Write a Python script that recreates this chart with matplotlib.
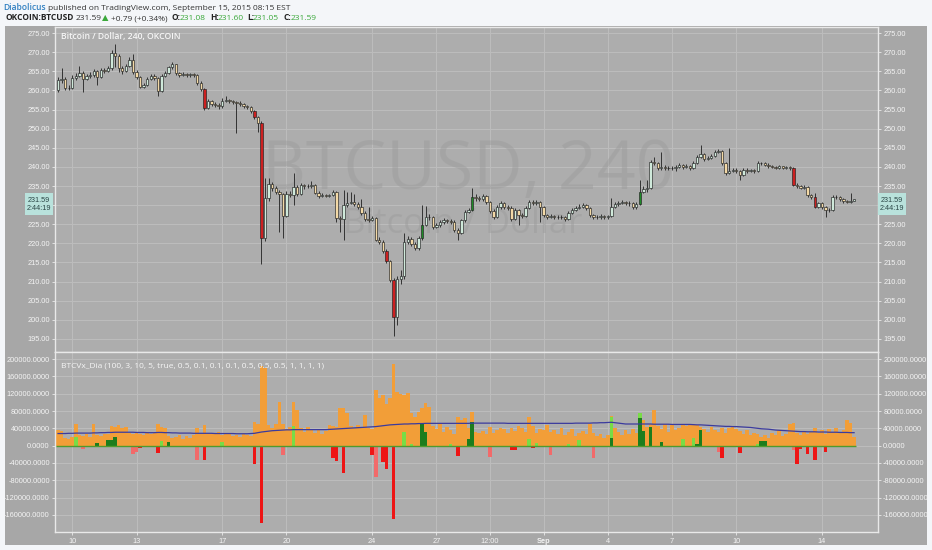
import matplotlib
matplotlib.use("Agg")
import matplotlib.pyplot as plt
from matplotlib.patches import Rectangle
import numpy as np
import pandas as pd

# 4h candles, OKCOIN BTCUSD, first bar 2015-08-09 08:00
first_open = 260.0
close = [
    262.8, 263.0, 260.5, 260.6, 263.2, 263.8, 264.5, 263.0, 263.8, 264.0,
    265.0, 263.5, 265.2, 265.0, 265.8, 269.8, 269.0, 265.8, 265.0, 266.5,
    268.0, 264.8, 263.5, 261.0, 261.5, 263.0, 263.8, 263.2, 259.8, 263.8,
    264.5, 266.0, 266.8, 264.5, 264.0, 264.3, 264.0, 264.2, 264.0, 262.0,
    260.3, 255.5, 257.2, 256.5, 256.3, 255.8, 257.3, 257.5, 257.2, 257.0,
    256.8, 256.5, 255.8, 255.6, 254.6, 253.0, 251.4, 221.3, 231.8, 235.5,
    234.5, 233.5, 232.8, 227.2, 233.0, 232.6, 234.8, 233.0, 235.2, 234.9,
    235.0, 235.3, 233.3, 232.4, 232.7, 232.4, 232.6, 233.4, 226.6, 226.4,
    230.0, 230.6, 230.9, 230.3, 229.5, 228.0, 226.5, 226.2, 226.6, 221.0,
    220.4, 218.0, 215.3, 210.5, 200.8, 210.8, 211.5, 220.4, 221.2, 219.8,
    218.7, 221.3, 224.8, 227.0, 226.8, 224.4, 224.7, 225.5, 226.0, 225.8,
    225.6, 223.5, 222.8, 226.0, 228.3, 228.7, 232.2, 231.8, 231.6, 232.3,
    230.8, 228.5, 227.0, 229.5, 230.5, 229.6, 229.3, 226.4, 228.7, 227.4,
    227.2, 229.2, 230.9, 230.5, 230.8, 229.6, 227.4, 227.0, 227.2, 226.9,
    227.0, 226.8, 226.3, 227.9, 228.7, 229.2, 229.6, 230.0, 229.2, 227.4,
    227.0, 226.9, 227.2, 226.8, 227.1, 229.6, 230.2, 230.5, 230.9, 230.6,
    230.5, 229.4, 230.4, 233.5, 234.3, 234.6, 241.4, 241.0, 239.6, 240.0,
    239.8, 239.7, 239.6, 240.0, 240.4, 240.0, 240.3, 239.8, 241.0, 242.5,
    243.3, 242.0, 242.3, 242.9, 243.8, 244.2, 241.0, 238.5, 239.0, 239.3,
    239.0, 237.8, 239.2, 238.9, 239.1, 238.9, 241.0, 240.9, 240.6, 240.2,
    240.0, 239.8, 240.1, 239.8, 239.9, 239.6, 235.3, 235.0, 234.6, 234.8,
    232.6, 232.0, 229.6, 230.5, 229.5, 228.7, 228.8, 232.2, 232.0, 231.5,
    231.0, 230.9, 231.08, 231.59,
]
high = [
    263.5, 265.8, 263.6, 261.5, 264.0, 264.6, 266.5, 265.0, 264.3, 264.8,
    265.6, 265.4, 265.8, 265.9, 266.3, 270.5, 272.1, 269.5, 266.4, 267.0,
    268.8, 269.4, 265.2, 263.8, 262.0, 263.5, 264.3, 264.2, 263.6, 264.2,
    265.0, 266.5, 267.5, 267.0, 264.9, 264.7, 264.6, 264.6, 264.5, 264.3,
    262.4, 260.6, 257.8, 257.6, 256.9, 256.6, 257.9, 258.5, 257.8, 257.6,
    257.3, 257.2, 256.8, 256.2, 256.0, 254.9, 253.3, 252.0, 237.0, 237.0,
    236.0, 235.0, 234.0, 233.2, 233.6, 233.6, 238.3, 235.2, 235.8, 235.6,
    235.5, 236.3, 235.6, 233.7, 233.2, 233.0, 233.0, 234.0, 233.8, 227.2,
    234.0, 233.5, 233.5, 233.0, 230.8, 231.6, 228.5, 229.5, 227.2, 227.0,
    221.6, 220.8, 218.4, 215.7, 211.0, 211.4, 213.0, 222.6, 222.0, 221.6,
    220.3, 222.0, 230.0, 229.8, 227.6, 227.2, 225.3, 226.0, 226.6, 226.4,
    226.3, 226.0, 224.0, 226.5, 228.8, 229.3, 234.5, 232.8, 232.3, 232.9,
    232.7, 231.2, 228.9, 230.0, 231.2, 230.9, 230.0, 229.7, 229.2, 229.0,
    227.9, 229.7, 231.4, 231.3, 231.3, 231.1, 229.9, 227.8, 227.6, 227.5,
    227.4, 227.3, 227.2, 228.4, 229.2, 229.7, 230.3, 230.6, 230.4, 229.6,
    227.8, 227.4, 227.6, 227.5, 227.5, 231.8, 230.7, 231.0, 231.4, 231.2,
    231.0, 230.8, 230.9, 236.5, 234.9, 236.6, 241.8, 242.7, 241.3, 243.8,
    240.4, 240.2, 240.1, 240.5, 240.9, 240.8, 240.8, 240.6, 241.5, 243.0,
    245.7, 243.6, 242.8, 243.4, 244.3, 244.7, 244.5, 241.3, 245.0, 239.8,
    239.7, 239.3, 239.7, 239.6, 239.5, 239.4, 241.5, 241.4, 241.2, 240.9,
    240.5, 240.3, 240.4, 240.3, 240.2, 240.1, 239.9, 235.7, 235.3, 235.2,
    235.0, 232.9, 233.1, 230.9, 230.8, 229.8, 229.2, 232.6, 232.6, 232.3,
    231.8, 231.3, 233.1, 231.60,
]
low = [
    259.5, 262.0, 260.0, 260.0, 260.3, 262.8, 263.4, 259.5, 262.6, 263.3,
    263.6, 261.5, 263.2, 264.5, 264.7, 265.4, 266.0, 264.8, 264.4, 264.8,
    266.2, 264.3, 263.0, 260.6, 260.7, 261.2, 262.7, 262.8, 258.6, 259.5,
    263.5, 264.2, 265.6, 264.0, 263.6, 263.7, 263.5, 263.6, 263.4, 261.5,
    259.8, 255.0, 255.2, 256.0, 255.6, 255.2, 255.5, 256.9, 256.7, 256.5,
    248.9, 256.0, 255.3, 255.1, 254.2, 252.4, 249.0, 214.6, 220.5, 231.0,
    233.6, 232.8, 223.0, 221.3, 226.8, 232.0, 230.0, 232.5, 232.7, 234.3,
    234.5, 234.6, 232.8, 231.9, 232.0, 232.0, 232.0, 232.3, 225.7, 223.0,
    221.0, 229.6, 230.2, 229.8, 228.9, 227.5, 225.8, 225.7, 225.8, 220.5,
    219.8, 217.4, 214.8, 209.8, 195.8, 198.7, 209.5, 210.8, 219.8, 219.2,
    218.2, 218.3, 221.0, 224.5, 226.2, 223.8, 223.9, 224.3, 225.1, 225.2,
    225.0, 223.0, 220.9, 222.4, 225.7, 227.9, 228.4, 231.2, 231.0, 231.2,
    230.3, 228.0, 226.3, 226.7, 229.1, 229.1, 228.8, 225.9, 226.0, 224.8,
    226.7, 226.9, 228.9, 230.0, 230.1, 225.7, 227.0, 226.5, 226.6, 226.4,
    226.5, 226.3, 225.8, 226.0, 227.6, 228.4, 228.9, 229.3, 228.8, 227.0,
    226.5, 226.4, 226.5, 226.3, 226.4, 226.8, 229.2, 229.9, 230.2, 230.1,
    229.9, 229.0, 229.1, 230.1, 233.2, 233.5, 234.3, 240.5, 239.1, 239.2,
    239.3, 239.2, 239.1, 238.8, 239.7, 239.5, 239.7, 239.3, 239.5, 240.7,
    242.2, 241.6, 241.7, 242.0, 242.6, 243.5, 240.6, 238.0, 238.2, 238.7,
    238.5, 236.6, 237.5, 238.5, 238.6, 238.5, 238.6, 240.5, 240.2, 239.8,
    239.6, 239.4, 239.5, 239.4, 239.5, 239.2, 234.9, 234.5, 234.2, 234.2,
    232.2, 231.6, 229.2, 229.3, 229.0, 227.0, 228.3, 228.5, 231.6, 231.1,
    230.6, 230.5, 230.6, 231.05,
]
red_candles = [41, 55, 57, 92, 94, 206, 212]
green_candles = [102, 116, 163]

# BTCVx_Dia indicator, thousands
volume_k = [
    36, 34, 18, 15, 20, 49, 25, 22, 28, 20,
    49, 25, 22, 28, 26, 45, 42, 48, 40, 44,
    30, 26, 32, 28, 25, 30, 27, 29, 51, 44,
    40, 22, 18, 20, 25, 15, 22, 18, 24, 40,
    28, 48, 30, 26, 28, 32, 25, 30, 27, 22,
    25, 20, 28, 24, 22, 54, 50, 185, 180, 48,
    40, 51, 100, 51, 38, 42, 100, 82, 40, 32,
    44, 35, 30, 38, 28, 33, 48, 45, 42, 86,
    88, 76, 45, 40, 48, 42, 71, 40, 38, 128,
    109, 117, 97, 110, 188, 125, 120, 118, 122, 75,
    67, 78, 86, 98, 90, 45, 38, 51, 32, 42,
    36, 28, 67, 60, 65, 40, 78, 32, 30, 34,
    28, 42, 30, 36, 40, 38, 30, 40, 33, 46,
    40, 32, 67, 45, 30, 38, 36, 48, 32, 35,
    28, 40, 25, 32, 38, 22, 30, 34, 26, 51,
    30, 22, 28, 18, 25, 69, 40, 32, 25, 35,
    28, 38, 30, 75, 59, 44, 50, 82, 45, 38,
    51, 32, 48, 36, 40, 48, 46, 51, 50, 48,
    44, 38, 32, 44, 36, 32, 40, 30, 40, 42,
    38, 34, 28, 36, 25, 30, 28, 20, 24, 18,
    30, 24, 36, 22, 28, 51, 52, 30, 24, 34,
    26, 32, 40, 30, 36, 28, 38, 32, 40, 30,
    36, 59, 52, 20,
]
ma_k = [
    28, 28, 28, 28.5, 28.5, 29, 29, 29, 29, 29,
    29.5, 29.5, 30, 30, 30.5, 30.5, 31, 31, 31, 31,
    31, 31, 30.5, 30.5, 30.5, 30, 30, 30, 30.5, 30.5,
    30, 30, 29.5, 29.5, 29, 29, 29, 29, 28.5, 28.5,
    28.5, 28.5, 28.5, 28.5, 28, 28, 28, 28, 28, 28,
    27.5, 27.5, 27.5, 27.5, 28, 28.5, 30, 31.5, 32.5, 33.5,
    34.5, 35, 35.5, 36, 36.5, 36.5, 37, 37, 37, 37,
    37, 37, 37, 37, 37, 37, 37.5, 38, 38.5, 39,
    39.5, 40, 40.5, 41, 41.5, 42, 42.5, 43, 43.5, 44,
    45, 46, 47, 48, 48.5, 49, 49.5, 50, 50, 50.5,
    50.5, 51, 51, 51.5, 51.5, 51.5, 51.5, 51.5, 51.5, 51.5,
    51.5, 51.5, 51.5, 51.5, 51.5, 51.5, 52, 52, 52, 52,
    52, 52, 52, 52, 52, 52, 51.5, 51.5, 51.5, 51.5,
    51.5, 51.5, 51.5, 51.5, 51.5, 51.5, 51.5, 51.5, 51.5, 51.5,
    51.5, 51.5, 51.5, 51.5, 51.5, 52, 52, 52, 52, 52,
    52.5, 52.5, 53, 53, 53.5, 54, 53, 52, 51, 50,
    50, 50, 50, 50, 50, 50, 50, 49.5, 49.5, 49.5,
    49.5, 49.5, 49, 49, 49, 49, 49, 49, 48.5, 48,
    48, 47.5, 47, 46.5, 46, 45.5, 45, 44.5, 44.5, 44,
    44, 43.5, 43, 42.5, 42, 41, 40, 39, 38.5, 38,
    37, 36, 35.5, 35, 34.5, 34, 33.5, 33, 32.5, 32.5,
    32, 32, 32, 31.5, 31.5, 31.5, 31, 31, 31, 30.5,
    30.5, 30.5, 30, 30,
]
# (bar, value in thousands, kind) G dark green, g light green, R red, r pink
signal = [
    (5, 21, "g"), (7, -8, "r"), (11, 5, "G"), (14, 13, "G"), (15, 13, "G"), (16, 19, "G"),
    (21, -20, "r"), (22, -15, "r"), (23, -6, "R"), (28, -18, "R"), (29, 11, "g"), (31, 8, "G"),
    (39, -32, "r"), (41, -32, "R"), (46, 8, "g"), (51, -4, "r"), (55, -42, "R"), (57, -179, "R"),
    (63, -22, "r"), (66, 46, "g"), (74, -4, "r"), (77, -29, "R"), (78, -35, "R"), (80, -64, "R"),
    (88, -22, "R"), (89, -72, "r"), (91, -37, "R"), (92, -55, "R"), (94, -169, "R"),
    (97, 31, "g"), (99, 4, "g"), (102, 51, "G"), (103, 31, "G"), (110, 4, "g"), (112, -25, "R"),
    (115, 15, "G"), (116, 55, "G"), (121, -27, "r"), (127, -10, "R"), (128, -10, "R"),
    (132, 15, "g"), (133, -6, "R"), (134, 5, "g"), (138, -22, "r"), (143, 4, "g"), (146, 13, "g"),
    (150, -29, "r"), (155, 67, "g"), (155, 17, "G"), (163, 75, "g"), (163, 63, "G"), (164, 34, "G"),
    (166, 44, "G"), (169, 9, "G"), (175, 15, "g"), (178, 17, "g"), (179, 4, "G"), (180, 36, "G"),
    (185, -15, "r"), (186, -29, "R"), (191, -18, "R"), (196, 4, "g"), (197, 11, "G"), (198, 11, "G"),
    (206, -10, "r"), (207, -42, "R"), (208, -8, "R"), (210, -19, "R"), (212, -33, "R"), (215, -15, "R"),
]

tick_dates = ["2015-08-10 00:00", "2015-08-13 00:00", "2015-08-17 00:00", "2015-08-20 00:00",
              "2015-08-24 00:00", "2015-08-27 00:00", "2015-08-29 12:00", "2015-09-01 00:00",
              "2015-09-04 00:00", "2015-09-07 00:00", "2015-09-10 00:00", "2015-09-14 00:00"]
tick_labels = ["10", "13", "17", "20", "24", "27", "12:00", "Sep", "4", "7", "10", "14"]
price_ticks = [195, 200, 205, 210, 215, 220, 225, 230, 235, 240, 245, 250, 255, 260, 265, 270, 275]
osc_ticks = [-160000, -120000, -80000, -40000, 0, 40000, 80000, 120000, 160000, 200000]

W, H = 932, 550
PLOT_BG = "#adadad"
SCALE_BG = "#a7a7a7"
GRID = "#bdbdbd"
SPINE = "#e9e9e9"
LABEL = "#f4f4f4"
SIG_COLORS = {"G": "#1d7d1d", "g": "#78dc46", "R": "#ee1515", "r": "#f26a6a"}


def fx(px):
    return px / W


def fy(py):
    return 1 - py / H


times = pd.date_range("2015-08-09 08:00", periods=len(close), freq="4h")
x = np.arange(len(close))
c = np.array(close)
o = np.concatenate([[first_open], c[:-1]])
hi = np.array(high)
lo = np.array(low)
tick_pos = times.get_indexer(pd.to_datetime(tick_dates, format="%Y-%m-%d %H:%M"))

fig = plt.figure(figsize=(W / 100, H / 100), dpi=100, facecolor="#f4f6f9")
fig.patches.append(Rectangle((fx(5), fy(545)), fx(922), 519 / H, transform=fig.transFigure,
                             facecolor=SCALE_BG, edgecolor="none", zorder=-5))

ax = fig.add_axes([fx(55), fy(352), fx(823), 325 / H])
ax2 = fig.add_axes([fx(55), fy(532), fx(823), 180 / H])

tick_font = dict(family=["Liberation Sans", "DejaVu Sans"], size=5.3, color=LABEL)

for a in (ax, ax2):
    a.set_facecolor(PLOT_BG)
    a.set_xlim(-0.84, 229.7)
    a.set_xticks(tick_pos)
    a.grid(True, color=GRID, lw=0.7)
    a.set_axisbelow(True)
    for s in a.spines.values():
        s.set_color(SPINE)
        s.set_linewidth(1.0)
    a.tick_params(axis="y", left=True, right=True, labelleft=True, labelright=True,
                  length=2.5, width=0.6, color=SPINE, pad=1.2)

# candles
up = c >= o
body_col = np.where(up, "#cfe9da", "#f3d9a6").astype(object)
body_col[red_candles] = "#cc2020"
body_col[green_candles] = "#1e8a28"
ax.vlines(x, lo, hi, color="#333333", lw=0.7, zorder=2)
ax.bar(x, np.maximum(np.abs(c - o), 0.12), bottom=np.minimum(o, c), width=0.66,
       color=list(body_col), edgecolor="#222222", linewidth=0.45, zorder=3)

ax.set_ylim(191.6, 276.57)
ax.set_yticks(price_ticks)
# the last-price badge hides the scale label it sits on
ax.set_yticklabels(["" if abs(v - close[-1]) < 2.5 else f"{v:.2f}" for v in price_ticks], **tick_font)
ax.tick_params(axis="x", bottom=False, labelbottom=False)

ax.text(0.502, 0.557, "BTCUSD, 240", transform=ax.transAxes, ha="center", va="center",
        fontsize=49, color="#9d9d9d", alpha=0.5, family=["Open Sans", "DejaVu Sans"], zorder=1)
ax.text(0.495, 0.394, "Bitcoin / Dollar", transform=ax.transAxes, ha="center", va="center",
        fontsize=25, color="#9d9d9d", alpha=0.5, family=["Open Sans", "DejaVu Sans"], zorder=1)
fig.text(fx(61), fy(39.5), "Bitcoin / Dollar, 240, OKCOIN", fontsize=6.2, color="#f6f6f6",
         weight="semibold", family=["Open Sans", "DejaVu Sans"], va="baseline")

# indicator panel
vol = np.array(volume_k) * 1000
ax2.bar(x, vol, width=1.0, color="#f29e38", zorder=2)
for bar, val, kind in signal:
    ax2.bar(bar, val * 1000, width=1.0, color=SIG_COLORS[kind], zorder=3)
ax2.hlines(0, x[0] - 0.5, x[-1] + 0.5, color="#4f9a2e", lw=1.0, zorder=4)
ax2.plot(x, np.array(ma_k) * 1000, color="#3b3b9e", lw=0.9, zorder=5)
ax2.set_ylim(-199300, 216200)
ax2.set_yticks(osc_ticks)
ax2.set_yticklabels([f"{v:.4f}" for v in osc_ticks], **tick_font)
ax2.set_xticklabels(tick_labels, **tick_font)
for lbl in ax2.get_xticklabels():
    if lbl.get_text() == "Sep":
        lbl.set_fontweight("bold")
ax2.tick_params(axis="x", length=2, width=0.6, color=SPINE, pad=2.5)
fig.text(fx(61), fy(367.5), "BTCVx_Dia (100, 3, 10, 5, true, 0.5, 0.1, 0.1, 0.1, 0.5, 0.5, 0.5, 1, 1, 1, 1)",
         fontsize=6.0, color="#f6f6f6", family=["Open Sans", "DejaVu Sans"], va="baseline")

# last price labels
for left_px in (25, 878):
    fig.patches.append(Rectangle((fx(left_px), fy(215)), fx(28), 22 / H, transform=fig.transFigure,
                                 facecolor="#b9e2dc", edgecolor="none", zorder=5))
    fig.text(fx(left_px + 14), fy(204.5), f"{close[-1]:.2f}\n2:44:19", ha="center", va="center",
             fontsize=5.2, linespacing=1.35, color="#2a4646",
             family=["Liberation Sans", "DejaVu Sans"], zorder=6)

# header
hdr = ["Open Sans", "DejaVu Sans"]
fig.text(fx(3), fy(9.5), "Diabolicus", fontsize=6.1, color="#2f7fc1", weight="semibold",
         family=hdr, va="baseline")
fig.text(fx(48), fy(9.5), "published on TradingView.com, September 15, 2015 08:15 EST",
         fontsize=6.0, color="#333333", family=hdr, va="baseline")
green = "#3aa83a"
parts = [
    (5, "OKCOIN:BTCUSD", "#222222", "bold"),
    (76, "231.59", "#333333", "normal"),
    (102, "\u25B2", green, "normal"),
    (111, "+0.79 (+0.34%)", "#333333", "normal"),
    (172, "O:", "#222222", "bold"),
    (180, "231.08", green, "normal"),
    (210, "H:", "#222222", "bold"),
    (218, "231.60", green, "normal"),
    (247, "L:", "#222222", "bold"),
    (253, "231.05", green, "normal"),
    (283, "C:", "#222222", "bold"),
    (291, "231.59", green, "normal"),
]
for px, txt, col, wt in parts:
    fig.text(fx(px), fy(20.5), txt, fontsize=6.0, color=col, weight=wt, family=hdr, va="baseline")

fig.savefig("out.png", dpi=100)
plt.close(fig)
